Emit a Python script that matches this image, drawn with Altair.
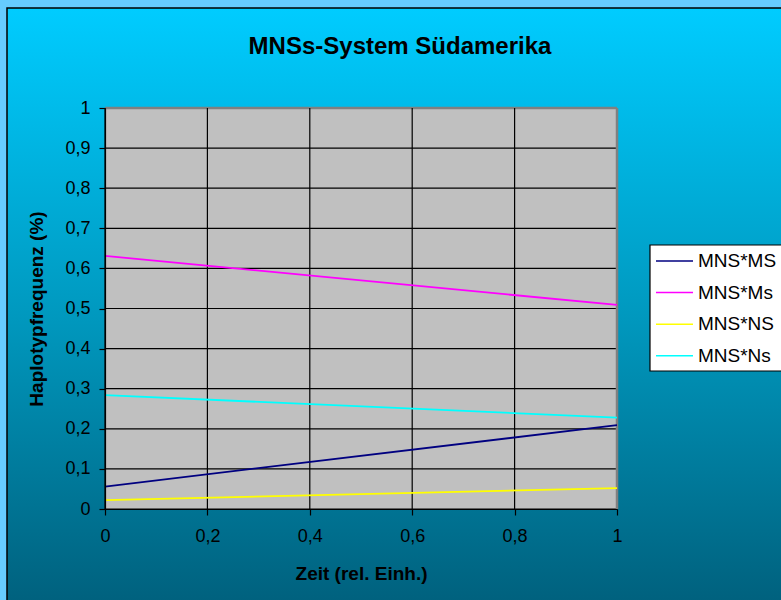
import altair as alt
import pandas as pd

# Haplotype frequencies over relative time (start and end of the period)
zeit = [0, 1]
series_names = ["MNS*MS", "MNS*Ms", "MNS*NS", "MNS*Ns"]
mns_MS = [0.056, 0.209]
mns_Ms = [0.631, 0.509]
mns_NS = [0.022, 0.052]
mns_Ns = [0.284, 0.228]
series_colors = ["#000080", "#FF00FF", "#FFFF00", "#00FFFF"]

# axis tick positions
x_ticks = [0, 0.2, 0.4, 0.6, 0.8, 1]
y_ticks = [0, 0.1, 0.2, 0.3, 0.4, 0.5, 0.6, 0.7, 0.8, 0.9, 1]

rows = []
for name, vals in zip(series_names, [mns_MS, mns_Ms, mns_NS, mns_Ns]):
    for x, v in zip(zeit, vals):
        rows.append({"Zeit": x, "Haplotyp": name, "Frequenz": v})
df = pd.DataFrame(rows)

FONT = "Liberation Sans"
W, H = 512, 401
PAD_L, PAD_T = 105, 108

x_scale = alt.Scale(domain=[0, 1], nice=False)
y_scale = alt.Scale(domain=[0, 1], nice=False)
color_scale = alt.Scale(domain=series_names, range=series_colors)

label_expr = "replace(format(datum.value, '~g'), '.', ',')"
x_axis = alt.Axis(values=x_ticks, labelExpr=label_expr, zindex=2,
                  title="Zeit (rel. Einh.)", titleY=64, titleBaseline="middle",
                  labelPadding=12)
y_axis = alt.Axis(values=y_ticks, labelExpr=label_expr, zindex=2,
                  title="Haplotypfrequenz (%)", titleX=-69, titleBaseline="middle",
                  labelPadding=9)

one_row = pd.DataFrame({"k": [0]})

# gradient panel behind everything
bg = alt.Chart(one_row).mark_rect(
    color=alt.Gradient(
        gradient="linear",
        stops=[alt.GradientStop(color="#00CCFF", offset=0),
               alt.GradientStop(color="#0098BE", offset=0.5),
               alt.GradientStop(color="#005C78", offset=1)],
        x1=0, x2=0, y1=0, y2=1,
    ),
    stroke="#000000",
    strokeWidth=1.5,
).encode(
    x=alt.value(-98), x2=alt.value(720),
    y=alt.value(-100), y2=alt.value(520),
)

# grey plotting area
plot_bg = alt.Chart(one_row).mark_rect(color="#C0C0C0").encode(
    x=alt.value(0), x2=alt.value(W), y=alt.value(0), y2=alt.value(H)
)

# gridlines (the outermost ones form the grey frame)
grid_y = alt.Chart(pd.DataFrame({"v": y_ticks})).mark_rule().encode(
    y=alt.Y("v:Q", scale=y_scale, axis=y_axis),
    color=alt.condition("datum.v == 1", alt.value("#808080"), alt.value("#000000")),
    strokeWidth=alt.condition("datum.v == 1", alt.value(2.5), alt.value(1.2)),
)
grid_x = alt.Chart(pd.DataFrame({"v": x_ticks})).mark_rule().encode(
    x=alt.X("v:Q", scale=x_scale, axis=x_axis),
    color=alt.condition("datum.v == 1", alt.value("#808080"), alt.value("#000000")),
    strokeWidth=alt.condition("datum.v == 1", alt.value(2.5), alt.value(1.2)),
)

lines = alt.Chart(df).mark_line(strokeWidth=1.8).encode(
    x=alt.X("Zeit:Q", scale=x_scale, axis=x_axis),
    y=alt.Y("Frequenz:Q", scale=y_scale, axis=y_axis),
    color=alt.Color("Haplotyp:N", scale=color_scale, legend=None),
)

# legend box with one swatch + label per haplotype
legend_base = alt.Chart(pd.DataFrame({"Haplotyp": series_names})).transform_window(
    idx="row_number()"
).transform_calculate(
    ly="153 + 31.6 * (datum.idx - 1)"
)
legend_box = alt.Chart(one_row).mark_rect(
    fill="#FFFFFF", stroke="#000000", strokeWidth=1.2
).encode(
    x=alt.value(545), x2=alt.value(720), y=alt.value(137), y2=alt.value(263)
)
legend_swatch = legend_base.mark_rule(strokeWidth=1.5).encode(
    x=alt.value(551), x2=alt.value(588),
    y=alt.Y("ly:Q", scale=None, axis=None),
    color=alt.Color("Haplotyp:N", scale=color_scale, legend=None),
)
legend_text = legend_base.mark_text(
    align="left", baseline="middle", font=FONT, fontSize=19, color="#000000"
).encode(
    x=alt.value(593),
    y=alt.Y("ly:Q", scale=None, axis=None),
    text="Haplotyp:N",
)

chart = alt.layer(
    bg, plot_bg, grid_y, grid_x, lines, legend_box, legend_swatch, legend_text
).properties(
    width=W,
    height=H,
    title=alt.TitleParams("MNSs-System Südamerika", font=FONT, fontSize=24,
                          fontWeight="bold", color="#000000", anchor="middle",
                          dx=39, offset=-71, baseline="alphabetic"),
    padding={"left": PAD_L, "top": PAD_T, "right": 781 - PAD_L - W, "bottom": 600 - PAD_T - H},
    autosize=alt.AutoSizeParams(type="none"),
).configure(
    background="#66CCFF",
).configure_view(
    stroke=None,
).configure_axis(
    grid=False,
    labelFont=FONT, labelFontSize=18, labelColor="#000000",
    titleFont=FONT, titleFontSize=19, titleFontWeight="bold", titleColor="#000000",
    domainColor="#000000", domainWidth=1.2, tickColor="#000000", tickSize=6, tickWidth=1.2,
    labelFlush=False, labelOverlap=False,
)

chart.save("out.html", embed_options={"renderer": "svg", "actions": False})
